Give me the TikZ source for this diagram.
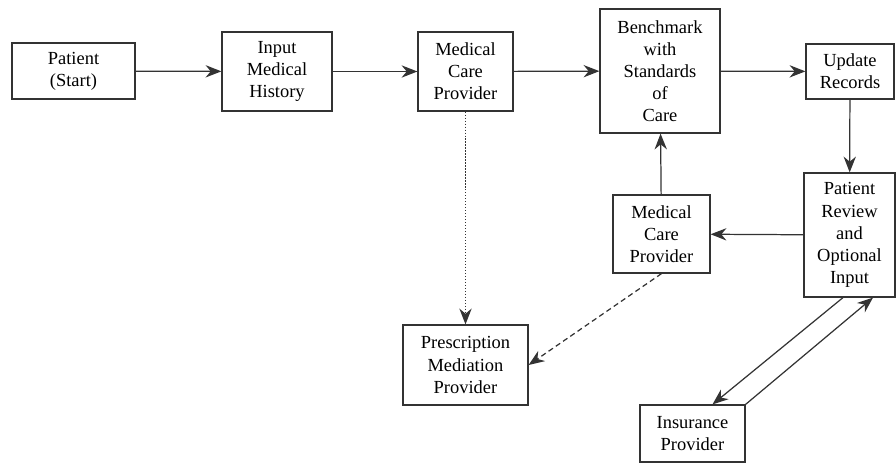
\documentclass[tikz,border=0pt]{standalone}
\usepackage{fontspec}
\setmainfont{Liberation Serif}
\usepackage{tikz}
\usetikzlibrary{arrows.meta}

\begin{document}
\begin{tikzpicture}[x=0.02cm, y=-0.02cm,
    box/.style={draw=black!80, line width=0.7pt, align=center, inner sep=1pt,
        font=\rmfamily\fontsize{10.5}{12.6}\selectfont},
    link/.style={draw=black!80, line width=0.7pt, -{Stealth[length=9pt, width=7pt]}}]
    \useasboundingbox (0, 0) rectangle (896, 466);
    \node[box, minimum width=2.46cm, minimum height=1.12cm] (patient) at (73.5, 71) {Patient\\(Start)};
    \node[box, minimum width=2.2cm, minimum height=1.58cm] (input) at (277, 71.5) {Input\\Medical\\History};
    \node[box, minimum width=1.9cm, minimum height=1.58cm] (careA) at (465.5, 71.5) {Medical\\Care\\Provider};
    \node[box, minimum width=2.4cm, minimum height=2.48cm] (bench) at (660, 71) {Benchmark\\with\\Standards\\of\\Care};
    \node[box, minimum width=1.76cm, minimum height=1.1cm] (update) at (850, 71.5) {Update\\Records};
    \node[box, minimum width=1.82cm, minimum height=2.48cm] (review) at (849.5, 235) {Patient\\Review\\and\\Optional\\Input};
    \node[box, minimum width=1.94cm, minimum height=1.56cm] (careB) at (661.5, 234) {Medical\\Care\\Provider};
    \node[box, minimum width=2.5cm, minimum height=1.6cm] (presc) at (465.5, 365) {Prescription\\Mediation\\Provider};
    \node[box, minimum width=2.1cm, minimum height=1.14cm] (insur) at (692.5, 433.5) {Insurance\\Provider};
    \draw[link] (patient) -- (input);
    \draw[link] (input) -- (careA);
    \draw[link] (careA) -- (bench);
    \draw[link] (bench) -- (update);
    \draw[link] (update) -- (review);
    \draw[link] (review) -- (careB);
    \draw[link] (careB) -- (bench);
    \draw[link, densely dotted] (careA) -- (presc);
    \draw[link, densely dashed] (careB.south) -- (presc.east);
    \draw[link] ([xshift=-0.13cm]review.south) -- ([xshift=0.4cm]insur.north);
    \draw[link] (insur.north east) -- ([xshift=0.47cm]review.south);
\end{tikzpicture}
\end{document}
